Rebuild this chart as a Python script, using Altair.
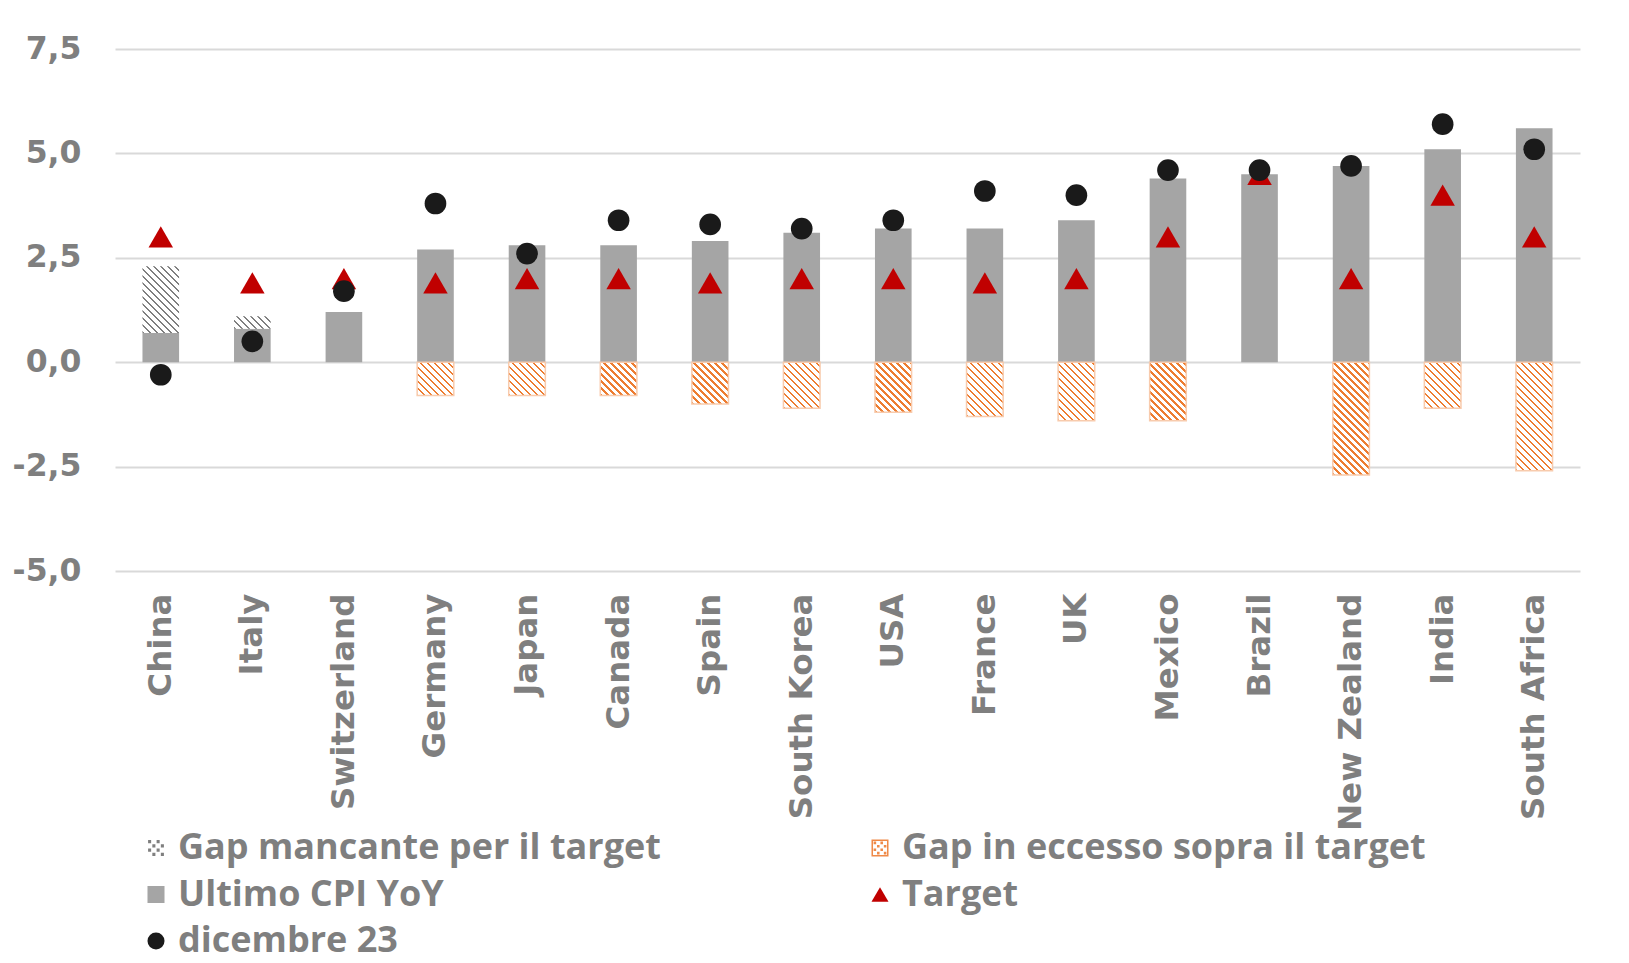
import altair as alt
import pandas as pd

# ---------------- data ----------------
countries = ["China", "Italy", "Switzerland", "Germany", "Japan", "Canada", "Spain",
             "South Korea", "USA", "France", "UK", "Mexico", "Brazil", "New Zealand",
             "India", "South Africa"]
cpi_last = [0.7, 0.8, 1.2, 2.7, 2.8, 2.8, 2.9, 3.1, 3.2, 3.2, 3.4, 4.4, 4.5, 4.7, 5.1, 5.6]
target = [3.0, 1.9, 2.0, 1.9, 2.0, 2.0, 1.9, 2.0, 2.0, 1.9, 2.0, 3.0, 4.5, 2.0, 4.0, 3.0]
dec23 = [-0.3, 0.5, 1.7, 3.8, 2.6, 3.4, 3.3, 3.2, 3.4, 4.1, 4.0, 4.6, 4.6, 4.7, 5.7, 5.1]
gap_missing = [1.6, 0.3, 0, 0, 0, 0, 0, 0, 0, 0, 0, 0, 0, 0, 0, 0]
gap_excess = [0, 0, 0, -0.8, -0.8, -0.8, -1.0, -1.1, -1.2, -1.3, -1.4, -1.4, 0, -2.7, -1.1, -2.6]
y_ticks = [-5, -2.5, 0, 2.5, 5, 7.5]

# legend order (filled column by column: 3 in the first column, 2 in the second)
series_names = ["Gap mancante per il target", "Ultimo CPI YoY", "dicembre 23",
                "Gap in eccesso sopra il target", "Target"]

bars_df = pd.DataFrame({"country": countries, "cpi": cpi_last})
miss_df = pd.DataFrame({"country": countries, "lo": cpi_last,
                        "hi": [c + g for c, g in zip(cpi_last, gap_missing)], "g": gap_missing})
miss_df = miss_df[miss_df.g > 0]
exc_df = pd.DataFrame({"country": countries, "lo": [0.0] * len(countries), "hi": gap_excess})
exc_df = exc_df[exc_df.hi < 0]
pts_df = pd.DataFrame({"country": countries * 2, "value": target + dec23,
                       "series": ["Target"] * len(countries) + ["dicembre 23"] * len(countries)})

# ---------------- styling helpers ----------------
GREY_TXT = "#7f7f7f"


def hatch_expr(color, period=7.0, frac=0.34, L=210.0):
    n = int(L / period)
    stops = []
    for i in range(n):
        a = i / n
        b = (i + frac) / n
        stops += [f"{{'offset':{a:.5f},'color':'white'}}",
                  f"{{'offset':{a:.5f},'color':'{color}'}}",
                  f"{{'offset':{b:.5f},'color':'{color}'}}",
                  f"{{'offset':{b:.5f},'color':'white'}}"]
    stops.append("{'offset':1,'color':'white'}")
    W = "bandwidth('x')"
    H = "max(1, abs(scale('y', datum.lo) - scale('y', datum.hi)))"
    D = f"({W}*{W} + {H}*{H})"
    return (f"{{'gradient':'linear','x1':0,'y1':1,"
            f"'x2': {W}*{L}/{D},'y2': 1 - {H}*{L}/{D},"
            f"'stops':[{','.join(stops)}]}}")


def sq(cx, cy, s=0.3):
    h = s / 2
    return f"M{cx-h:.2f},{cy-h:.2f}h{s}v{s}h{-s}Z"


dots = [(-0.75, -0.75), (-0.25, -0.25), (0.25, 0.25), (0.75, 0.75),
        (0.25, -0.75), (0.75, -0.25), (-0.75, 0.25), (-0.25, 0.75)]
hatch_path = "".join(sq(x, y, 0.36) for x, y in dots)
frame = "M-1,-1H1V1H-1Z M-0.82,-0.82V0.82H0.82V-0.82Z"
hatch_frame_path = frame + "".join(sq(x * 0.8, y * 0.8, 0.3) for x, y in dots)

color_map = {"Gap mancante per il target": "#7f7f7f",
             "Gap in eccesso sopra il target": "#ef8a48",
             "Ultimo CPI YoY": "#a5a5a5", "Target": "#c00000", "dicembre 23": "#1a1a1a"}
shape_map = {"Gap mancante per il target": hatch_path,
             "Gap in eccesso sopra il target": hatch_frame_path,
             "Ultimo CPI YoY": "square", "Target": "triangle-up", "dicembre 23": "circle"}
legend_colors = [color_map[s] for s in series_names]
legend_shapes = [shape_map[s] for s in series_names]

x_enc = alt.X("country:N", sort=countries,
              scale=alt.Scale(paddingInner=0.6, paddingOuter=0.3),
              axis=alt.Axis(title=None, labelAngle=-90, labelFont="DejaVu Sans",
                            labelFontSize=32.5, labelFontWeight="bold", labelColor=GREY_TXT,
                            labelPadding=22, domain=False, ticks=False,
                            grid=False, labelLimit=400))

y_scale = alt.Scale(domain=[-5, 7.5], nice=False, zero=False)
y_axis = alt.Axis(title=None, values=y_ticks,
                  labelExpr="replace(replace(format(datum.value, '.1f'), '.', ','), '\u2212', '-')",
                  labelFont="DejaVu Sans", labelFontSize=31.5, labelFontWeight="bold",
                  labelColor=GREY_TXT, labelPadding=34, domain=False, ticks=False,
                  grid=True, gridColor="#d9d9d9", gridWidth=2)

base_bars = alt.Chart(bars_df).mark_bar(color="#a5a5a5").encode(
    x=x_enc,
    y=alt.Y("cpi:Q", scale=y_scale, axis=y_axis, title=None),
)

miss_bars = alt.Chart(miss_df).mark_bar(fill=alt.ExprRef(expr=hatch_expr("#7f7f7f"))).encode(
    x=x_enc,
    y=alt.Y("lo:Q", scale=y_scale, axis=y_axis, title=None),
    y2="hi:Q",
)

exc_bars = alt.Chart(exc_df).mark_bar(
    fill=alt.ExprRef(expr=hatch_expr("#ed7d31")), stroke="#f8cbad", strokeWidth=1.5
).encode(
    x=x_enc,
    y=alt.Y("lo:Q", scale=y_scale, axis=y_axis, title=None),
    y2="hi:Q",
)

legend = alt.Legend(title=None, orient="none", legendX=23, legendY=781, columns=2,
                    columnPadding=201, rowPadding=10.5, labelFont="Open Sans",
                    labelFontSize=36, labelFontWeight="bold", labelColor=GREY_TXT,
                    labelOffset=4, labelLimit=0, symbolSize=290, symbolStrokeWidth=0,
                    symbolOpacity=1, padding=0)

points = alt.Chart(pts_df).mark_point(filled=True, opacity=1, strokeWidth=0).encode(
    x=x_enc,
    y=alt.Y("value:Q", scale=y_scale, axis=y_axis, title=None),
    color=alt.Color("series:N", scale=alt.Scale(domain=series_names, range=legend_colors),
                    legend=legend),
    shape=alt.Shape("series:N", scale=alt.Scale(domain=series_names, range=legend_shapes),
                    legend=legend),
    size=alt.Size("series:N", scale=alt.Scale(domain=["Target", "dicembre 23"], range=[600, 470]),
                  legend=None),
)

chart = alt.layer(base_bars, miss_bars, exc_bars, points).properties(
    width=1465, height=522,
    autosize=alt.AutoSizeParams(type="none"),
    padding={"left": 107, "top": 41, "right": 40, "bottom": 392},
    background="white",
).configure_view(stroke=None)

chart.save("out.html", embed_options={"renderer": "svg", "actions": False})
